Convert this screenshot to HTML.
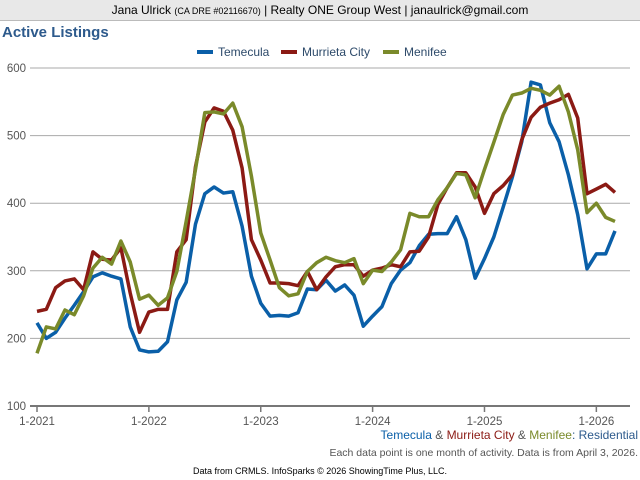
<!DOCTYPE html>
<html><head><meta charset="utf-8"><style>
body{margin:0;background:#fff;font-family:"Liberation Sans",sans-serif}
#wrap{position:relative;width:640px;height:480px;overflow:hidden}
#hdr{position:absolute;left:0;top:0;width:640px;height:20px;background:#e8e8e8;border-bottom:1px solid #bbb;text-align:center;font-size:12px;line-height:20px;color:#000}
#title{position:absolute;left:2px;top:24px;font-size:15px;font-weight:bold;color:#2d5a8c}
</style></head><body>
<div id="wrap">
<div id="hdr">Jana Ulrick <span style="font-size:9px">(CA DRE #02116670)</span> | Realty ONE Group West | janaulrick@gmail.com</div>
<div id="title">Active Listings</div>
<svg id="chart" width="640" height="480" style="position:absolute;left:0;top:0"></svg>
</div>
<script>
const temecula=[223,200,209,230,249,269,291,297,292,288,217,183,180,181,195,257,283,369,414,424,415,417,366,292,252,233,234,233,238,273,272,286,270,279,264,218,233,247,281,301,312,337,354,355,355,380,346,289,318,350,394,439,491,579,575,519,491,442,383,303,325,325,359];
const murrieta=[240,243,275,285,288,272,328,317,316,334,267,209,239,243,243,328,346,454,520,541,536,508,452,346,316,282,282,281,278,299,272,291,306,309,309,292,301,304,309,306,328,329,350,398,423,445,445,424,385,414,426,442,494,527,542,548,553,561,526,414,421,428,416];
const menifee=[178,217,214,242,235,263,304,320,310,344,313,258,264,249,260,299,373,450,534,535,532,548,513,440,356,316,275,263,266,299,312,320,315,312,318,281,301,299,313,331,385,380,380,405,423,444,442,408,450,490,531,560,563,570,567,560,573,535,479,386,400,379,373];
const yTicks=[100,200,300,400,500,600];
const xTicks=["1-2021","1-2022","1-2023","1-2024","1-2025","1-2026"];
const NS="http://www.w3.org/2000/svg";
const svg=document.getElementById('chart');
const X0=37,XL=615,Y0=406,Y1=68;
const n=temecula.length;
function xs(i){return X0+(XL-X0)*i/(n-1);}
function ys(v){return Y0-(v-100)*(Y0-Y1)/500;}
function mk(t,a){const e=document.createElementNS(NS,t);for(const k in a)e.setAttribute(k,a[k]);svg.appendChild(e);return e;}
yTicks.forEach(v=>{
  const g=mk('line',{x1:30,x2:630,y1:ys(v),y2:ys(v),stroke:v===100?'#777':'#aaa','stroke-width':v===100?2:1});
  
  
  const t=mk('text',{x:26,y:ys(v)+4,'text-anchor':'end','font-size':11.5,fill:'#555','font-family':'Liberation Sans, sans-serif'});
  t.textContent=v;
  
  
});
xTicks.forEach((s,k)=>{
  const x=xs(k*12);
  const l=mk('line',{x1:x,x2:x,y1:Y0,y2:Y0+6,stroke:'#777','stroke-width':1.5});
  
  
  const t=mk('text',{x:x,y:Y0+19,'text-anchor':'middle','font-size':11.5,fill:'#555','font-family':'Liberation Sans, sans-serif'});
  t.textContent=s;
  
  
});
const series=[[temecula,'#0a5fa8','temecula-line'],[murrieta,'#8b1a14','murrieta-line'],[menifee,'#7a8a2a','menifee-line']];
series.forEach(([d,c,nm])=>{
  const p=mk('polyline',{points:d.map((v,i)=>xs(i)+','+ys(v)).join(' '),fill:'none',stroke:c,'stroke-width':3.5,'stroke-linejoin':'round'});
  
  
});
const leg=[['Temecula','#0a5fa8',197],['Murrieta City','#8b1a14',281],['Menifee','#7a8a2a',383]];
leg.forEach(([s,c,x])=>{
  const l=mk('line',{x1:x,x2:x+16,y1:52,y2:52,stroke:c,'stroke-width':4});
  
  
  const t=mk('text',{x:x+21,y:56,'font-size':12,fill:'#2d4a6a','font-family':'Liberation Sans, sans-serif'});
  t.textContent=s;
  
  
});
const sub=mk('text',{x:638,y:439,'text-anchor':'end','font-size':12,'font-family':'Liberation Sans, sans-serif'});
sub.innerHTML='<tspan fill="#0a5fa8">Temecula</tspan><tspan fill="#555"> &amp; </tspan><tspan fill="#8b1a14">Murrieta City</tspan><tspan fill="#555"> &amp; </tspan><tspan fill="#7a8a2a">Menifee</tspan><tspan fill="#2d5a8c">: Residential</tspan>';


const note=mk('text',{x:638,y:456,'text-anchor':'end','font-size':10.5,fill:'#555','font-family':'Liberation Sans, sans-serif'});
note.textContent='Each data point is one month of activity. Data is from April 3, 2026.';


const src=mk('text',{x:320,y:474,'text-anchor':'middle','font-size':9,fill:'#000','font-family':'Liberation Sans, sans-serif'});
src.textContent='Data from CRMLS. InfoSparks © 2026 ShowingTime Plus, LLC.';


</script>
</body></html>
